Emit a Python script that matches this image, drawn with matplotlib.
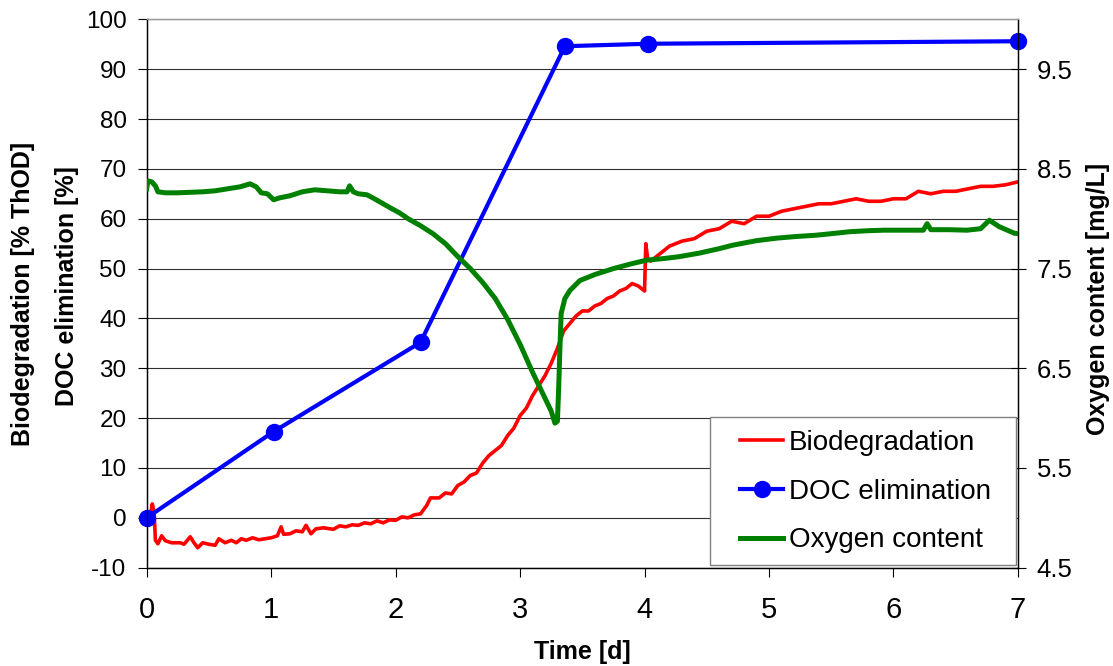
import matplotlib
matplotlib.use("Agg")
import matplotlib.pyplot as plt
from matplotlib.patches import Rectangle

plt.rcParams['font.family'] = ['Liberation Sans', 'DejaVu Sans']
plt.rcParams['axes.unicode_minus'] = False

# ---------------- data ----------------
bio_t = [0.00, 0.03, 0.045, 0.06, 0.07, 0.09, 0.12, 0.15, 0.20, 0.27, 0.30, 0.35, 0.38, 0.41,
         0.45, 0.50, 0.55, 0.58, 0.63, 0.68, 0.72, 0.76, 0.80, 0.85, 0.90, 0.95, 1.00, 1.05,
         1.08, 1.10, 1.15, 1.20, 1.25, 1.28, 1.32, 1.36, 1.42, 1.50, 1.55, 1.60, 1.65, 1.70,
         1.75, 1.80, 1.85, 1.90, 1.95, 2.00, 2.05, 2.10, 2.15, 2.20, 2.25, 2.28, 2.35, 2.40,
         2.45, 2.50, 2.55, 2.60, 2.65, 2.70, 2.75, 2.80, 2.85, 2.90, 2.95, 3.00, 3.05, 3.10,
         3.15, 3.20, 3.25, 3.30, 3.35, 3.40, 3.45, 3.50, 3.55, 3.60, 3.65, 3.70, 3.75, 3.80,
         3.85, 3.90, 3.95, 4.00, 4.01, 4.025, 4.05, 4.10, 4.15, 4.20, 4.30, 4.40, 4.50, 4.60,
         4.70, 4.80, 4.90, 5.00, 5.10, 5.20, 5.30, 5.40, 5.50, 5.60, 5.70, 5.80, 5.90, 6.00,
         6.10, 6.20, 6.30, 6.40, 6.50, 6.60, 6.70, 6.80, 6.90, 7.00]
bio_v = [0.0, 0.5, 2.8, 1.0, -4.5, -5.2, -3.6, -4.6, -5.0, -5.0, -5.3, -3.8, -5.0, -6.0,
         -5.0, -5.3, -5.5, -4.2, -5.0, -4.5, -5.0, -4.2, -4.5, -4.0, -4.4, -4.2, -4.0, -3.6,
         -1.8, -3.3, -3.2, -2.6, -2.8, -1.5, -3.2, -2.2, -2.0, -2.3, -1.6, -1.8, -1.4, -1.5,
         -1.0, -1.2, -0.6, -1.0, -0.4, -0.5, 0.2, 0.0, 0.6, 0.8, 2.5, 4.0, 4.0, 5.0,
         4.8, 6.5, 7.2, 8.5, 9.0, 11.0, 12.5, 13.5, 14.5, 16.5, 18.0, 20.5, 22.0, 24.5,
         26.5, 28.5, 31.0, 34.0, 37.5, 39.0, 40.5, 41.5, 41.5, 42.5, 43.0, 44.0, 44.5, 45.5,
         46.0, 47.0, 46.5, 45.5, 55.0, 52.0, 51.5, 52.5, 53.5, 54.5, 55.5, 56.0, 57.5, 58.0,
         59.5, 59.0, 60.5, 60.5, 61.5, 62.0, 62.5, 63.0, 63.0, 63.5, 64.0, 63.5, 63.5, 64.0,
         64.0, 65.5, 65.0, 65.5, 65.5, 66.0, 66.5, 66.5, 66.8, 67.4]

doc_t = [0.0, 1.02, 2.2, 3.36, 4.03, 7.0]
doc_v = [0.0, 17.3, 35.2, 94.6, 95.1, 95.6]

oxy_t = [0.00, 0.01, 0.04, 0.07, 0.09, 0.15, 0.25, 0.35, 0.45, 0.55, 0.65, 0.75, 0.83, 0.88,
         0.92, 0.97, 1.02, 1.07, 1.15, 1.25, 1.35, 1.45, 1.55, 1.61, 1.63, 1.66, 1.70, 1.77,
         1.83, 1.90, 1.97, 2.03, 2.10, 2.20, 2.30, 2.40, 2.50, 2.60, 2.70, 2.80, 2.90, 3.00,
         3.10, 3.20, 3.25, 3.28, 3.30, 3.31, 3.32, 3.33, 3.36, 3.40, 3.48, 3.60, 3.75, 3.90,
         4.02, 4.15, 4.28, 4.44, 4.60, 4.71, 4.90, 5.06, 5.20, 5.38, 5.50, 5.65, 5.80, 5.92,
         6.10, 6.24, 6.27, 6.30, 6.45, 6.59, 6.70, 6.77, 6.85, 6.97, 7.00]
oxy_v = [8.30, 8.38, 8.37, 8.33, 8.27, 8.26, 8.26, 8.265, 8.27, 8.28, 8.30, 8.32, 8.35, 8.32,
         8.26, 8.25, 8.19, 8.21, 8.23, 8.27, 8.29, 8.28, 8.27, 8.27, 8.33, 8.27, 8.25, 8.24,
         8.20, 8.15, 8.10, 8.06, 8.00, 7.93, 7.85, 7.75, 7.62, 7.50, 7.36, 7.20, 6.99, 6.74,
         6.46, 6.20, 6.07, 5.95, 5.97, 6.30, 6.70, 7.05, 7.20, 7.28, 7.38, 7.44, 7.50, 7.55,
         7.585, 7.60, 7.62, 7.655, 7.70, 7.735, 7.78, 7.805, 7.82, 7.835, 7.85, 7.87, 7.88, 7.885,
         7.885, 7.885, 7.95, 7.89, 7.89, 7.885, 7.90, 7.985, 7.92, 7.855, 7.85]

x_ticks = [0, 1, 2, 3, 4, 5, 6, 7]
left_ticks = [-10, 0, 10, 20, 30, 40, 50, 60, 70, 80, 90, 100]
right_ticks = [4.5, 5.5, 6.5, 7.5, 8.5, 9.5]
right_labels = ['4.5', '5.5', '6.5', '7.5', '8.5', '9.5']
series_names = ['Biodegradation', 'DOC elimination', 'Oxygen content']

RED, BLUE, GREEN = '#FF0000', '#0000FF', '#008000'

# ---------------- figure ----------------
fig = plt.figure(figsize=(11.13, 6.66), dpi=100)
ax = fig.add_axes([0.1318, 0.1476, 0.7828, 0.8234])
ax2 = ax.twinx()

ax.set_xlim(0, 7)
ax.set_ylim(-10, 100)
ax2.set_ylim(4.5, 10.0)

ax.set_yticks(left_ticks)
ax.set_xticks(x_ticks)
ax2.set_yticks(right_ticks)
ax2.set_yticklabels(right_labels)

ax.yaxis.grid(True, color='#303030', lw=0.8)
ax.set_axisbelow(True)

ax.tick_params(axis='y', direction='out', length=6.5, width=0.8, pad=8, labelsize=17.5, colors='black')
ax.tick_params(axis='x', direction='out', length=6.5, width=0.8, pad=14, labelsize=21, colors='black')
ax2.tick_params(axis='y', direction='inout', length=10.8, width=0.8, pad=8, labelsize=18.5, colors='black')

for a in (ax, ax2):
    a.spines['top'].set_color('#999999')
    a.spines['top'].set_linewidth(0.9)
    for s in ('left', 'right', 'bottom'):
        a.spines[s].set_color('black')
        a.spines[s].set_linewidth(0.9)

l1, = ax.plot(bio_t, bio_v, color=RED, lw=2.6, label=series_names[0], zorder=3)
l2, = ax.plot(doc_t, doc_v, color=BLUE, lw=3.0, marker='o', markersize=11.5,
              label=series_names[1], clip_on=False, zorder=4)
l3, = ax2.plot(oxy_t, oxy_v, color=GREEN, lw=3.6, label=series_names[2], zorder=3)

# legend frame
rect = Rectangle((0.6465, 0.005), 0.3512, 0.2705, transform=ax2.transAxes,
                 facecolor='white', edgecolor='#808080', lw=1.0, zorder=10)
ax2.add_patch(rect)
leg = ax2.legend(handles=[l1, l2, l3], loc='center left', bbox_to_anchor=(0.681, 0.1386),
                 frameon=False, fontsize=20, handlelength=1.55, handletextpad=0.22,
                 labelspacing=0.82, borderpad=0, borderaxespad=0)
leg.set_zorder(11)

# axis labels
lab = dict(fontsize=18, fontweight='bold', rotation=90, ha='center', va='center')
fig.text(23 / 1113, 1 - 293.5 / 666, 'Biodegradation [% ThOD]', **lab)
fig.text(67 / 1113, 1 - 286.5 / 666, 'DOC elimination [%]', **lab)
fig.text(1098 / 1113, 1 - 298.5 / 666, 'Oxygen content [mg/L]', **lab)
fig.text(582 / 1113, 1 - 652 / 666, 'Time [d]', fontsize=18, fontweight='bold',
         ha='center', va='center')

fig.savefig('out.png', dpi=100)
